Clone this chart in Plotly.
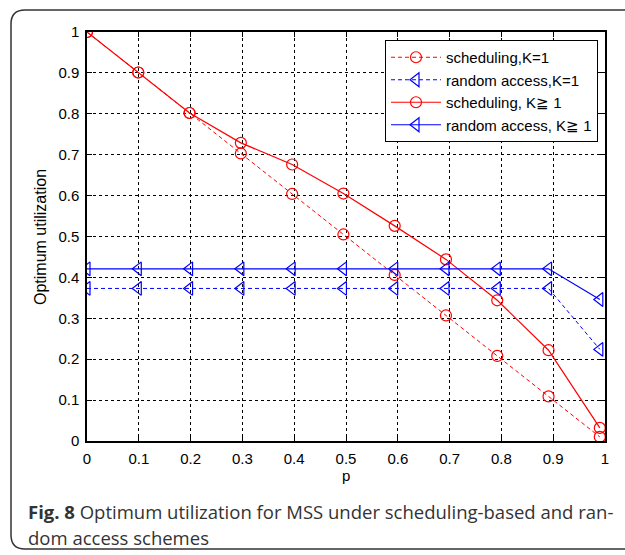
import plotly.graph_objects as go

# ---- data ----
p = [0, 0.099, 0.198, 0.297, 0.396, 0.495, 0.594, 0.693, 0.792, 0.891, 0.99]
sched_k1 = [1.0, 0.901, 0.802, 0.703, 0.604, 0.505, 0.406, 0.307, 0.208, 0.109, 0.01]
ra_k1 = [0.373, 0.373, 0.373, 0.373, 0.373, 0.373, 0.373, 0.373, 0.373, 0.373, 0.224]
sched_kge = [1.0, 0.901, 0.802, 0.729, 0.676, 0.605, 0.526, 0.444, 0.344, 0.222, 0.032]
ra_kge = [0.421, 0.421, 0.421, 0.421, 0.421, 0.421, 0.421, 0.421, 0.421, 0.421, 0.346]

names = ["scheduling,K=1", "random access,K=1", "scheduling, K\u2267 1", "random access, K\u2267 1"]
x_ticks = [0, 0.1, 0.2, 0.3, 0.4, 0.5, 0.6, 0.7, 0.8, 0.9, 1]
x_ticklabels = ["0", "0.1", "0.2", "0.3", "0.4", "0.5", "0.6", "0.7", "0.8", "0.9", "1"]
y_ticks = [0, 0.1, 0.2, 0.3, 0.4, 0.5, 0.6, 0.7, 0.8, 0.9, 1]
y_ticklabels = ["0", "0.1", "0.2", "0.3", "0.4", "0.5", "0.6", "0.7", "0.8", "0.9", "1"]

W, H = 625, 555
L, R, T, B = 87, 605, 32, 441
FONT = "Liberation Sans, Arial, sans-serif"

def px(x):
    return (x - L) / (R - L)

def py(y):
    return (B - y) / (B - T)

RED = "#ff0000"
BLUE = "#0000ff"

fig = go.Figure()
fig.add_trace(go.Scatter(x=p, y=sched_k1, name=names[0], mode="lines+markers",
                         line=dict(color=RED, width=1, dash="4px,3px"),
                         marker=dict(symbol="circle-open", size=11, color=RED, line=dict(width=1.2))))
fig.add_trace(go.Scatter(x=p, y=ra_k1, name=names[1], mode="lines+markers",
                         line=dict(color=BLUE, width=1, dash="4px,3px"),
                         marker=dict(symbol="triangle-left-open", size=12, color=BLUE, line=dict(width=1.2))))
fig.add_trace(go.Scatter(x=p, y=sched_kge, name=names[2], mode="lines+markers",
                         line=dict(color=RED, width=1.2),
                         marker=dict(symbol="circle-open", size=11, color=RED, line=dict(width=1.2))))
fig.add_trace(go.Scatter(x=p, y=ra_kge, name=names[3], mode="lines+markers",
                         line=dict(color=BLUE, width=1.2),
                         marker=dict(symbol="triangle-left-open", size=12, color=BLUE, line=dict(width=1.2))))

axis_common = dict(
    showline=True, linecolor="black", linewidth=1.5, mirror="ticks",
    ticks="inside", ticklen=5, tickcolor="black", tickwidth=1,
    showgrid=True, gridcolor="black", gridwidth=1, griddash="3px,3px",
    zeroline=False, tickfont=dict(family=FONT, size=15, color="black"),
)
fig.update_xaxes(range=[0, 1], tickvals=x_ticks, ticktext=x_ticklabels, ticklabelstandoff=3, **axis_common)
fig.update_yaxes(range=[0, 1], tickvals=y_ticks, ticktext=y_ticklabels, ticklabelstandoff=3, **axis_common)

# rounded outer frame
fl, ft, fr, fb, rad = 11, 10, 640, 549, 14
path = (f"M {px(fl+rad)},{py(ft)} L {px(fr-rad)},{py(ft)} Q {px(fr)},{py(ft)} {px(fr)},{py(ft+rad)} "
        f"L {px(fr)},{py(fb-rad)} Q {px(fr)},{py(fb)} {px(fr-rad)},{py(fb)} "
        f"L {px(fl+rad)},{py(fb)} Q {px(fl)},{py(fb)} {px(fl)},{py(fb-rad)} "
        f"L {px(fl)},{py(ft+rad)} Q {px(fl)},{py(ft)} {px(fl+rad)},{py(ft)} Z")
fig.add_shape(type="path", path=path, xref="paper", yref="paper",
              line=dict(color="#333333", width=1.5), fillcolor="rgba(0,0,0,0)", layer="below")

annotations = [
    dict(text="Optimum utilization", x=px(41), y=py(237), xref="paper", yref="paper",
         textangle=-90, showarrow=False, xanchor="center", yanchor="middle",
         font=dict(family=FONT, size=16, color="black")),
    dict(text="p", x=px(346), y=py(476), xref="paper", yref="paper",
         showarrow=False, xanchor="center", yanchor="middle",
         font=dict(family=FONT, size=15, color="black")),
    dict(text="<b>Fig. 8</b> Optimum utilization for MSS under scheduling-based and ran-",
         x=px(26), y=py(511), xref="paper", yref="paper", showarrow=False,
         xanchor="left", yanchor="middle",
         font=dict(family="Open Sans", size=18.5, color="#333333")),
    dict(text="dom access schemes",
         x=px(26), y=py(537.5), xref="paper", yref="paper", showarrow=False,
         xanchor="left", yanchor="middle",
         font=dict(family="Open Sans", size=18.5, color="#333333")),
]

fig.update_layout(
    width=W, height=H,
    margin=dict(l=L, r=W - R, t=T, b=H - B),
    paper_bgcolor="white", plot_bgcolor="white",
    showlegend=True,
    legend=dict(x=px(598), y=py(40), xanchor="right", yanchor="top",
                bgcolor="white", bordercolor="black", borderwidth=1,
                font=dict(family=FONT, size=15, color="black"),
                itemwidth=50, tracegroupgap=0),
    annotations=annotations,
)

fig.write_html("out.html", config={"displayModeBar": False},
               post_script="document.body.style.margin='0';")
